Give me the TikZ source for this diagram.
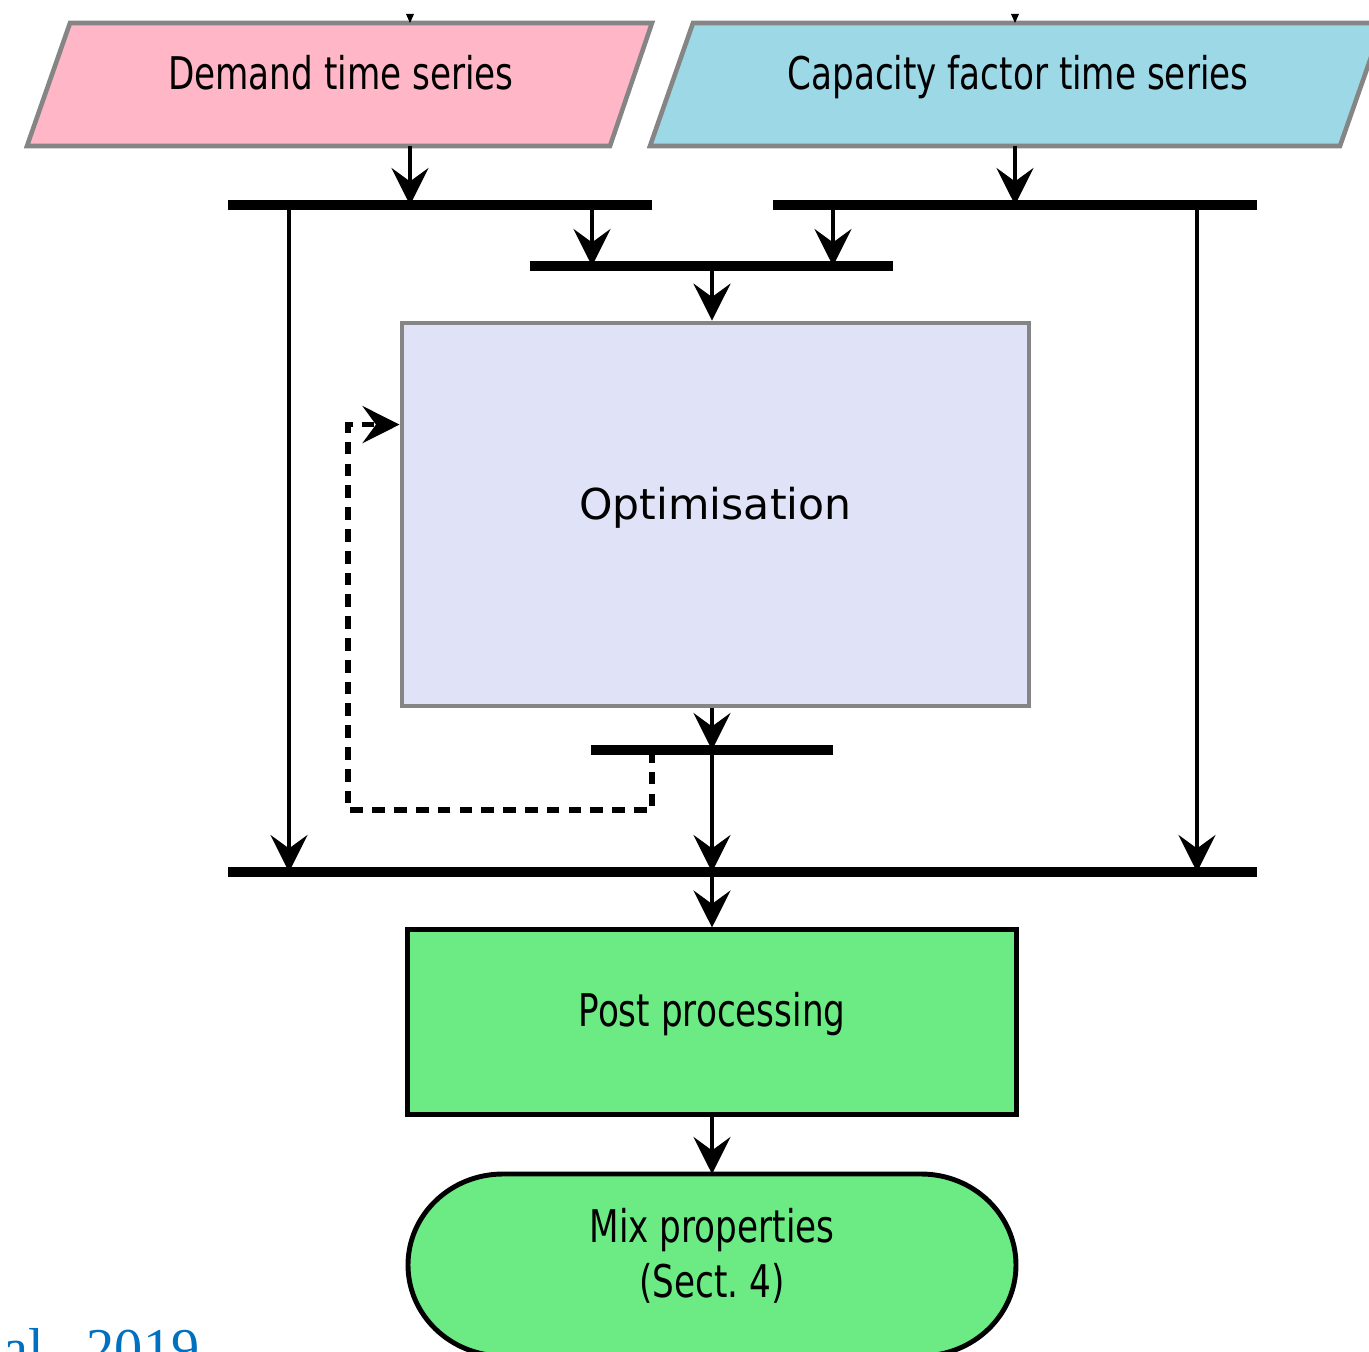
\documentclass[tikz,border=0pt]{standalone}
\usepackage{fontspec}
\setmainfont{DejaVu Sans}
\newfontfamily\condf[FakeStretch=0.76]{DejaVu Sans}
\newfontfamily\djv{DejaVu Sans}
\newfontfamily\timesf{Liberation Serif}
\usetikzlibrary{arrows.meta,calc}
\definecolor{pinkfill}{HTML}{FFB6C6}
\definecolor{bluefill}{HTML}{9CD8E6}
\definecolor{lavfill}{HTML}{E0E3F8}
\definecolor{greenfill}{HTML}{6CEB84}
\definecolor{bordergray}{HTML}{858585}
\definecolor{refblue}{HTML}{0070C0}
\begin{document}
\begin{tikzpicture}[x=0.01cm,y=-0.01cm,
  conn/.style={line width=1.35pt,-{Stealth[length=10.5pt,width=10.5pt,inset=3.8pt]}},
  fbk/.style={line width=1.5pt,dash pattern=on 3.6pt off 2.6pt,-{Stealth[length=10.5pt,width=10.5pt,inset=3.8pt]}},
  bus/.style={line width=2.7pt,line cap=butt},
  pgram/.style={draw=bordergray,line width=1.3pt},
  ctext/.style={inner sep=0pt,font=\condf\fontsize{12.8pt}{15.6pt}\selectfont,text height=9.7pt,text depth=6.6pt},
  optbox/.style={draw=bordergray,fill=lavfill,line width=1.3pt,inner sep=0pt,minimum width=6.27cm,minimum height=3.83cm,
    font=\djv\fontsize{12.1pt}{14pt}\selectfont,text height=9.5pt,text depth=6.9pt},
  postbox/.style={draw=black,fill=greenfill,line width=1.4pt,inner sep=0pt,minimum width=6.08cm,minimum height=1.84cm,
    font=\condf\fontsize{12.8pt}{15.6pt}\selectfont,text height=9.7pt,text depth=6.9pt},
  termbox/.style={draw=black,fill=greenfill,line width=1.4pt}
]
\useasboundingbox (0,0) rectangle (1369,1352);
\clip (0,0) rectangle (1369,1352);

% input parallelograms
\filldraw[pgram,fill=pinkfill] (70,23) -- (652,23) -- (610,146) -- (27,146) -- cycle;
\filldraw[pgram,fill=bluefill] (693,23) -- (1383,23) -- (1340,146) -- (650,146) -- cycle;
\node[ctext] (dem) at (341,84.5) {Demand time series};
\node[ctext] (cap) at (1018,84.5) {Capacity factor time series};

% tiny arrow tips entering from above
\fill (406,14) -- (414,14) -- (410,23) -- cycle;
\fill (1011,14) -- (1019,14) -- (1015,23) -- cycle;

% coordinates
\coordinate (demOut) at (410,146);
\coordinate (capOut) at (1015,146);
\coordinate (b1L) at (228,205); \coordinate (b1R) at (652,205);
\coordinate (b2L) at (773,205); \coordinate (b2R) at (1257,205);
\coordinate (b3L) at (530,266); \coordinate (b3R) at (893,266);
\coordinate (b4L) at (591,750); \coordinate (b4R) at (833,750);
\coordinate (b5L) at (228,872); \coordinate (b5R) at (1257,872);
\coordinate (b1a) at (592,205);
\coordinate (b2a) at (833,205);
\coordinate (b1c) at (289,205);
\coordinate (b2c) at (1197,205);
\coordinate (b3m) at (712,266);
\coordinate (b4m) at (712,750);
\coordinate (b4f) at (652,750);
\coordinate (b5m) at (712,872);
\coordinate (fbA) at (348,810);

% boxes
\node[optbox] (opt) at (715.5,514.5) {Optimisation};
\node[postbox] (post) at (712,1022) {Post processing};
\draw[termbox] (503,1174) -- (921,1174) arc[start angle=-90,end angle=90,x radius=95,y radius=91]
  -- (503,1356) arc[start angle=90,end angle=270,x radius=95,y radius=91] -- cycle;
\coordinate (termTop) at (712,1174);
\node[inner sep=0pt,align=center,font=\condf\fontsize{12.8pt}{15.6pt}\selectfont] (mix) at (712,1256) {Mix properties\\[0.2pt](Sect.\ 4)};

% connectors
\draw[conn] (demOut) -- (demOut |- b1L);
\draw[conn] (capOut) -- (capOut |- b2L);
\draw[conn] (b1a) -- (b1a |- b3L);
\draw[conn] (b2a) -- (b2a |- b3L);
\draw[conn] (b3m) -- (opt.north -| b3m);
\draw[conn] (opt.south -| b4m) -- (b4m);
\draw[conn] (b4m) -- (b5m);
\draw[conn] (b1c) -- (b1c |- b5L);
\draw[conn] (b2c) -- (b2c |- b5L);
\draw[conn] (b5m) -- (post.north);
\draw[conn] (post.south) -- (termTop);
\draw[fbk] (b4f) |- (fbA) |- ($(opt.north west)+(0,104)$);

% bars
\draw[bus] (b1L) -- (b1R);
\draw[bus] (b2L) -- (b2R);
\draw[bus] (b3L) -- (b3R);
\draw[bus] (b4L) -- (b4R);
\draw[bus] (b5L) -- (b5R);

% cropped citation text
\node[anchor=base east,inner sep=0pt,text=refblue,font=\timesf\fontsize{16pt}{18pt}\selectfont] (cite) at (200,1367) {al., 2019};
\end{tikzpicture}
\end{document}
